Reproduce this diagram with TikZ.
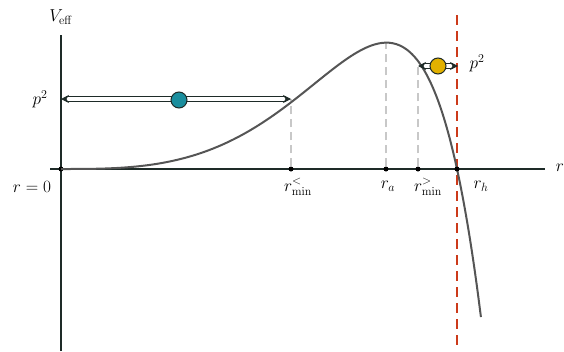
\documentclass[tikz,border=0pt]{standalone}
\usetikzlibrary{arrows.meta}
\definecolor{axiscol}{HTML}{1E2B28}
\definecolor{curvecol}{HTML}{555555}
\definecolor{tealcol}{HTML}{1A8E9E}
\definecolor{goldcol}{HTML}{E2B100}
\definecolor{redcol}{HTML}{CC3A1A}
\definecolor{guidecol}{HTML}{C8C8C8}
\tikzset{
  axisline/.style={draw=axiscol, line width=1.1pt},
  guideline/.style={draw=guidecol, line width=1.1pt, dash pattern=on 8pt off 5pt},
  horizon/.style={draw=redcol, line width=1.5pt, dash pattern=on 10pt off 6pt},
  axdot/.style={circle, fill=black, inner sep=0pt, minimum size=5pt},
  ball/.style={circle, draw=axiscol, line width=1pt, minimum size=16pt, inner sep=0pt},
  motion/.style={draw=axiscol, double=white, double distance=3.2pt, line width=1pt, {Stealth[length=8pt,width=8pt]}-{Stealth[length=8pt,width=8pt]}},
  lbl/.style={inner sep=1pt, font=\fontsize{17}{20}\selectfont},
}
\begin{document}
\begin{tikzpicture}[x=1pt,y=-1pt]
\useasboundingbox (0,0) rectangle (564,351);
% axes
\coordinate (yb) at (61,351);
\coordinate (yt) at (61,35);
\coordinate (xl) at (50,169);
\coordinate (xr) at (545,169);
\draw[axisline] (yb) -- (yt);
\draw[axisline] (xl) -- (xr);
\node[lbl] (veff) at (61,17) {$V_{\mathrm{eff}}$};
\node[lbl] (rlab) at (560,168) {$r$};
% points on axis
\node[axdot] (o) at (61,169) {};
\node[axdot] (rmin1) at (291,169) {};
\node[axdot] (ra) at (386,169) {};
\node[axdot] (rmin2) at (418,169) {};
% curve points
\coordinate (c1) at (291,99);
\coordinate (c2) at (386,43);
\coordinate (c3) at (418,66);
% guides
\draw[guideline] (rmin1) -- (c1);
\draw[guideline] (ra) -- (c2);
\draw[guideline] (rmin2) -- (c3);
% horizon
\coordinate (ht) at (457,15);
\coordinate (hb) at (457,350);
\draw[horizon] (ht) -- (hb);
% curve
\draw[curvecol, line width=2pt, smooth] plot[domain=0:1.062, samples=120, variable=\t]
  ({61+396*\t},{169-364.2*(\t*\t*\t)*(1-\t*\t*\t*\t*\t)});
\node[axdot] (rh) at (457,169) {};
% labels
\node[lbl] (l0) at (32,187) {$r=0$};
\node[lbl] (l1) at (298,187) {$r^{<}_{\min}$};
\node[lbl] (l2) at (388,186) {$r_a$};
\node[lbl] (l3) at (428,187) {$r^{>}_{\min}$};
\node[lbl] (l4) at (481,186) {$r_h$};
% left motion
\coordinate (a1) at (61,99);
\coordinate (a2) at (291,99);
\draw[motion] (a1) -- (a2);
\node[ball, fill=tealcol] (b1) at (179,100) {};
\node[lbl] (p1) at (40,99) {$p^2$};
% right motion
\coordinate (a3) at (418,66);
\coordinate (a4) at (458,66);
\draw[motion] (a3) -- (a4);
\node[ball, fill=goldcol] (b2) at (438,66) {};
\node[lbl] (p2) at (477,63) {$p^2$};
\end{tikzpicture}
\end{document}
